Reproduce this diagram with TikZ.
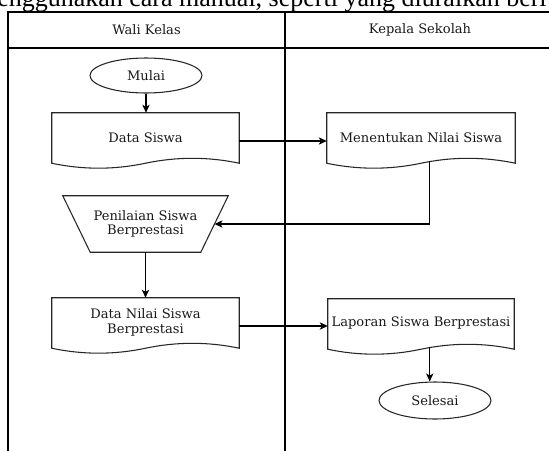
\documentclass[tikz,border=0pt]{standalone}
\usepackage{fontspec}
\setmainfont{DejaVu Serif}
\newfontfamily\timesfont{Liberation Serif}
\usetikzlibrary{calc,arrows.meta,shapes.geometric}

\newcommand\docoutline[1]{%
  \draw[shapeline] (#1.north west) -- (#1.north east)
    -- ($(#1.north east)+(0,50.5)$)
    .. controls ($(#1.north west)!0.8333!(#1.north east)+(0,43.9)$)
            and ($(#1.north west)!0.6667!(#1.north east)+(0,43.9)$)
    .. ($(#1.north west)!0.5!(#1.north east)+(0,50.5)$)
    .. controls ($(#1.north west)!0.3333!(#1.north east)+(0,57.1)$)
            and ($(#1.north west)!0.1667!(#1.north east)+(0,57.1)$)
    .. ($(#1.north west)+(0,50.5)$) -- cycle;}

\begin{document}
\begin{tikzpicture}[x=0.75pt,y=-0.75pt,
  lane/.style={draw=black,line width=0.9pt},
  shapeline/.style={draw=black!85,line width=0.8pt},
  txt/.style={font=\fontsize{9.8}{11}\selectfont,text=black!90},
  doc/.style={txt,rectangle,draw=none,minimum height=36.75pt,inner sep=0pt,align=center},
  term/.style={txt,ellipse,draw=black!85,line width=0.8pt,inner sep=0pt,minimum width=84pt},
  arr/.style={draw=black,line width=0.8pt,-{Stealth[length=6pt,width=5.5pt,inset=1.6pt]}}]
\useasboundingbox (0,0) rectangle (549,450);
\clip (0,0) rectangle (549,450);

% cut-off running text above the diagram
\node[anchor=base west,inner sep=0pt,font=\timesfont\fontsize{19.5}{20}\selectfont] (toptext) at (-3,6) {enggunakan cara manual, seperti yang diuraikan beri};

% swimlanes
\draw[lane] (8,460) -- (8,12) -- (560,12);
\draw[lane] (8,48) -- (560,48);
\draw[lane] (285,12) -- (285,460);
\node[txt] (h1) at (146.5,30) {Wali Kelas};
\node[txt] (h2) at (420,30) {Kepala Sekolah};

% shapes
\node[term,minimum height=26.25pt] (mulai) at (146,75.5) {Mulai};

\node[doc,minimum width=140.25pt] (ds) at (145.5,137.5) {Data Siswa};
\docoutline{ds}

\node[doc,minimum width=141pt] (men) at (421,137.5) {Menentukan Nilai Siswa};
\docoutline{men}

\node[txt,rectangle,inner sep=0pt,minimum width=123.75pt,minimum height=42pt,align=center] (pen) at (145.5,224) {Penilaian Siswa\\Berprestasi};
\draw[shapeline] (pen.north west) -- (pen.north east) -- ($(pen.south east)+(-27.5,0)$) -- ($(pen.south west)+(27.5,0)$) -- cycle;
\coordinate (penR) at ($(pen.east)+(-13.75,0)$);

\node[doc,minimum width=140.25pt] (dn) at (145.5,322.5) {Data Nilai Siswa\\Berprestasi};
\docoutline{dn}

\node[doc,minimum width=139.5pt] (lap) at (421,323.5) {Laporan Siswa Berprestasi};
\docoutline{lap}

\node[term,minimum height=27.75pt] (sel) at (435,400.5) {Selesai};

% connectors
\draw[arr] (mulai.south) -- (mulai.south |- ds.north);
\draw[arr] ([yshift=-2.625pt]ds.east) -- ([yshift=-2.625pt]ds.east -| men.west);
\coordinate (menout) at ($(men.north west)+(103,48.7)$);
\draw[arr] (menout) |- (penR);
\draw[arr] (pen.south) -- (pen.south |- dn.north);
\draw[arr] ([yshift=-2.625pt]dn.east) -- ([yshift=-2.625pt]dn.east -| lap.west);
\coordinate (lapout) at ($(lap.north west)+(102,48.7)$);
\draw[arr] (lapout) -- (lapout |- sel.north);
\end{tikzpicture}
\end{document}
